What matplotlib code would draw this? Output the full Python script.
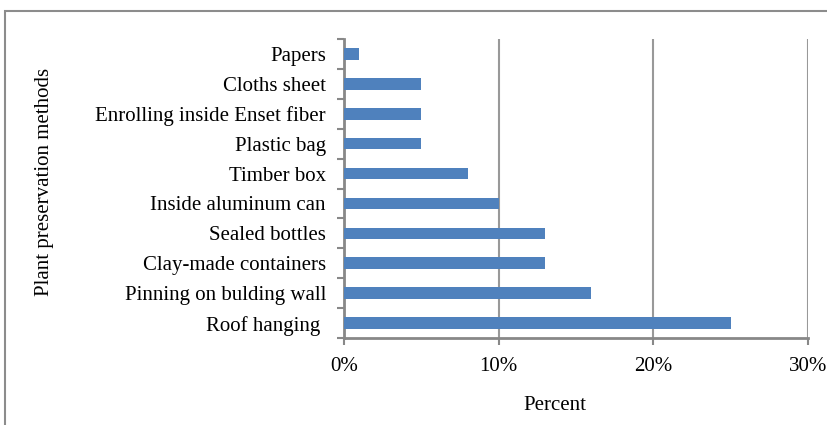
import matplotlib.pyplot as plt
from matplotlib.patches import Rectangle
from matplotlib.ticker import PercentFormatter

methods = ["Roof hanging ", "Pinning on bulding wall", "Clay-made containers",
           "Sealed bottles", "Inside aluminum can", "Timber box", "Plastic bag",
           "Enrolling inside Enset fiber", "Cloths sheet", "Papers"]
percent = [25, 16, 13, 13, 10, 8, 5, 5, 5, 1]
x_ticks = [0, 10, 20, 30]

plt.rcParams['font.family'] = ['Liberation Serif', 'DejaVu Serif']
grey = "#999999"
fs = 15

fig = plt.figure(figsize=(8.28, 4.25), dpi=100)
ax = fig.add_axes([344 / 828, 1 - 338 / 425, 464 / 828, 299 / 425])

pos = list(range(len(methods)))
ax.barh(pos, percent, height=0.39, color="#4f81bd", zorder=3)

ax.set_xlim(0, 30)
ax.set_ylim(-0.5, len(methods) - 0.5)
ax.set_xticks(x_ticks)
ax.xaxis.set_major_formatter(PercentFormatter(decimals=0))
ax.set_yticks(pos)
ax.set_yticklabels(methods)
ax.set_yticks([p - 0.5 for p in pos] + [len(methods) - 0.5], minor=True)

ax.grid(axis="x", color=grey, linewidth=1.5, zorder=0)
for side in ["top", "right"]:
    ax.spines[side].set_visible(False)
for side in ["left", "bottom"]:
    ax.spines[side].set_color("#888888")
    ax.spines[side].set_linewidth(2)

ax.tick_params(axis="y", which="major", length=0, pad=13, labelsize=fs)
ax.tick_params(axis="y", which="minor", length=5, width=1.5, color="#888888")
ax.tick_params(axis="x", length=5, width=1.5, color="#888888", labelsize=fs, pad=9)

fig.text(555 / 828, 1 - 405 / 425, "Percent", ha="center", va="center", fontsize=fs)
fig.text(45 / 828, 1 - 182 / 425, "Plant preservation methods", rotation=90,
         ha="center", va="center", fontsize=fs)

# outer chart-area frame
fig.patches.append(Rectangle((5 / 828, -0.1), 1.2, 0.1 + 1 - 11 / 425,
                             transform=fig.transFigure, fill=False,
                             edgecolor="#8c8c8c", linewidth=1.5))

fig.savefig("out.png", dpi=100)
